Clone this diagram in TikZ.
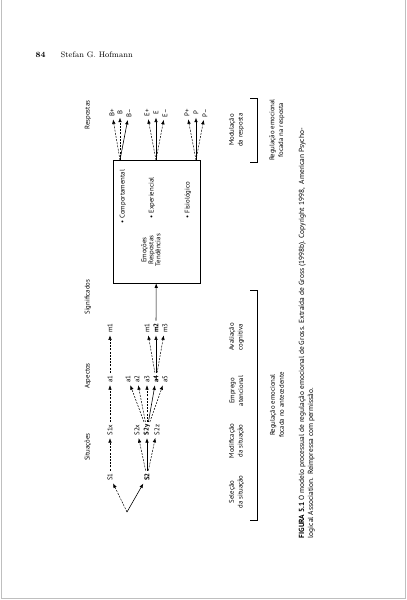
\documentclass[tikz,border=0pt]{standalone}
\usepackage{fontspec}
\setsansfont{PT Sans}
\usetikzlibrary{arrows.meta}

\begin{document}
\begin{tikzpicture}
[x=1pt,y=-1pt,every node/.style={font=\sffamily\fontsize{6.8}{7}\selectfont,inner sep=2.5pt},
 key/.style={font=\sffamily\bfseries\fontsize{6.8}{7}\selectfont},
 stage/.style={align=center,font=\sffamily\fontsize{6.8}{8.8}\selectfont},
 dsh/.style={-{Latex[length=4.5pt,width=3.5pt]},dash pattern=on 2pt off 1.2pt,line width=0.5pt},
 sld/.style={-{Latex[length=4.5pt,width=3.5pt]},line width=0.6pt}]

  \useasboundingbox (0,0) rectangle (407,600);
  \draw[gray!50,line width=0.8pt] (1,0) -- (1,598.5) -- (405.5,598.5) -- (405.5,0);

  % running head
  \node[anchor=west,font=\rmfamily\bfseries\fontsize{8}{9}\selectfont] (pg) at (33,55) {84};
  \node[anchor=west,font=\rmfamily\fontsize{8}{9}\selectfont] (auth) at (58,55) {Stefan G. Hofmann};

  % emotion box
  \node[draw,minimum width=87pt,minimum height=123pt,inner sep=0pt,line width=0.6pt] (box) at (156.5,221.5) {};

  \begin{scope}[every node/.append style={rotate=90}]
  % column heads
  \node (sit) at (88,447) {Situações};
  \node (asp) at (88,376) {Aspectos};
  \node (sig) at (88,297) {Significados};
  \node (resp) at (88,115) {Respostas};

  % first path
  \node (s1) at (110,477) {S1};
  \node (s1x) at (110,430) {S1x};
  \node (s1a) at (110,379) {a1};
  \node (s1m) at (110,328) {m1};

  % second path
  \node[key] (s2) at (147,477) {S2};
  \node (s2x) at (137,430) {S2x};
  \node[key] (s2y) at (147,430) {S2y};
  \node (s2z) at (157,430) {S2z};
  \node (a1) at (128,379) {a1};
  \node (a2) at (137,379) {a2};
  \node (a3) at (147,379) {a3};
  \node[key] (a4) at (156,379) {a4};
  \node (a5) at (165,379) {a5};
  \node (m1) at (147,328) {m1};
  \node[key] (m2) at (156,328) {m2};
  \node (m3) at (165,328) {m3};

  % inside the box
  \node[align=center] (emo) at (151,250) {Emoções\\Respostas\\Tendências};
  \node[anchor=west] (comp) at (123,226) {\textbullet\ Comportamental};
  \node[anchor=west] (expe) at (152,221) {\textbullet\ Experiencial};
  \node[anchor=west] (fisi) at (188,221) {\textbullet\ Fisiológico};

  % responses
  \node (bp) at (112,113) {B+};
  \node (b) at (120,113) {B};
  \node (bm) at (129,113) {B--};
  \node (ep) at (147,113) {E+};
  \node (e) at (156,113) {E};
  \node (em) at (165,113) {E--};
  \node (pp) at (187,113) {P+};
  \node (p) at (196,113) {P};
  \node (pm) at (205,113) {P--};

  % stages
  \node[stage] (st1) at (236.5,492) {Seleção\\da situação};
  \node[stage] (st2) at (236.5,441) {Modificação\\da situação};
  \node[stage] (st3) at (236.5,391) {Emprego\\atencional};
  \node[stage] (st4) at (236.5,337) {Avaliação\\cognitiva};
  \node[stage] (st5) at (236.5,130) {Modulação\\da resposta};
  \node[stage] (reg1) at (277,405) {Regulação emocional\\focada no antecedente};
  \node[stage] (reg2) at (277,130) {Regulação emocional\\focada na resposta};

  % caption
  \node[anchor=north west,align=left,font=\sffamily\fontsize{7.4}{9}\selectfont] (cap) at (296,541)
    {\textbf{FIGURA 5.1} O modelo processual de regulação emocional de Gross. Extraída de Gross (1998b). Copyright 1998,\ \ American Psycho-\\logical Association. Reimpressa com permissão.};
  \end{scope}

  \coordinate (sel) at (127,512);
  \coordinate (obox) at (120,160);
  \coordinate (ebox) at (156,160);
  \coordinate (pbox) at (196,160);

  \foreach \from/\to in {sel/s1,s1/s1x,s1x/s1a,s1a/s1m,s2/s2x,s2/s2z,s2y/a1,s2y/a2,s2y/a3,s2y/a5,a4/m1,a4/m3,obox/bp,obox/b,ebox/ep,ebox/em,pbox/pp,pbox/pm}
    \draw[dsh] (\from) -- (\to);
  \foreach \from/\to in {sel/s2,s2/s2y,s2y/a4,a4/m2,m2/box,obox/bm,ebox/e,pbox/p}
    \draw[sld] (\from) -- (\to);

  \draw[line width=0.6pt] (250,290) -- (257,290) -- (257,520) -- (250,520);
  \draw[line width=0.6pt] (250,98) -- (257,98) -- (257,162) -- (250,162);
\end{tikzpicture}
\end{document}
